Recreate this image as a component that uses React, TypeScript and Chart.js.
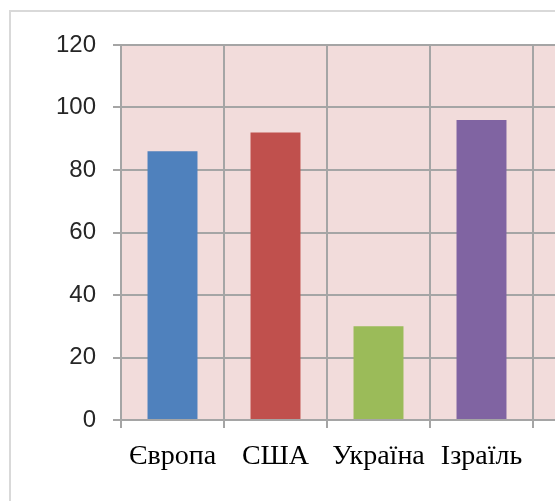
import React, { useEffect, useRef } from "react";
import { Chart, registerables } from "chart.js";

Chart.register(...registerables);

const categories = ["Європа", "США", "Україна", "Ізраїль", ""];
const values = [86, 92, 30, 96, null];
const barColors = ["#4F81BD", "#C0504D", "#9BBB59", "#8064A2", "#4BACC6"];
const yMin = 0;
const yMax = 120;
const yStep = 20;

const W = 700;
const H = 501;

const framePlugin = {
  id: "frame",
  beforeDraw(chart: any) {
    const { ctx, chartArea } = chart;
    ctx.save();
    ctx.fillStyle = "#ffffff";
    ctx.fillRect(0, 0, chart.width, chart.height);
    ctx.strokeStyle = "#D9D9D9";
    ctx.lineWidth = 2;
    ctx.strokeRect(10, 11, chart.width + 50, chart.height + 50);
    ctx.fillStyle = "#F2DCDB";
    ctx.fillRect(chartArea.left, chartArea.top, chartArea.right - chartArea.left, chartArea.bottom - chartArea.top);
    ctx.restore();
  },
};

export default function App() {
  const ref = useRef<HTMLCanvasElement | null>(null);
  useEffect(() => {
    if (!ref.current) return;
    const chart = new Chart(ref.current, {
      type: "bar",
      data: {
        labels: categories,
        datasets: [
          {
            data: values as any,
            backgroundColor: barColors,
            borderWidth: 0,
            categoryPercentage: 1,
            barPercentage: 0.485,
          },
        ],
      },
      options: {
        responsive: false,
        animation: false,
        devicePixelRatio: 1,
        layout: { padding: { left: 0, top: 45, right: 64, bottom: 0 } },
        plugins: { legend: { display: false }, tooltip: { enabled: false } },
        scales: {
          x: {
            offset: true,
            grid: { offset: true, color: "#A5A5A5", lineWidth: 2, tickLength: 8, drawTicks: true },
            border: { display: true, color: "#A5A5A5", width: 2 },
            ticks: {
              color: "#000000",
              font: { family: "'Liberation Serif', 'Times New Roman', serif", size: 28 },
              padding: 12,
              maxRotation: 0,
              autoSkip: false,
            },
            afterFit(scale: any) {
              scale.height = 81;
            },
          },
          y: {
            min: yMin,
            max: yMax,
            grid: { color: "#A5A5A5", lineWidth: 2, tickLength: 8 },
            border: { display: true, color: "#A5A5A5", width: 2 },
            ticks: {
              stepSize: yStep,
              color: "#262626",
              font: { family: "'Liberation Sans', Arial, sans-serif", size: 24 },
              padding: 17,
            },
            afterFit(scale: any) {
              scale.width = 121;
            },
          },
        },
      },
      plugins: [framePlugin],
    });
    return () => chart.destroy();
  }, []);
  return (
    <div style={{ position: "fixed", left: 0, top: 0, width: 555, height: 501, overflow: "hidden", background: "#fff" }}>
      <canvas ref={ref} width={W} height={H} style={{ display: "block", width: W, height: H }} />
    </div>
  );
}
